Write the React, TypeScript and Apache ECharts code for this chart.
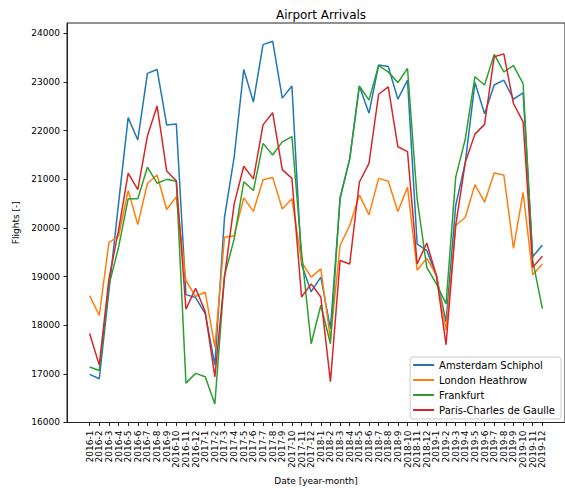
import React, { useEffect, useRef } from "react";
import * as echarts from "echarts";

const categories = [
  "2016-1", "2016-2", "2016-3", "2016-4", "2016-5", "2016-6", "2016-7", "2016-8", "2016-9", "2016-10", "2016-11", "2016-12",
  "2017-1", "2017-2", "2017-3", "2017-4", "2017-5", "2017-6", "2017-7", "2017-8", "2017-9", "2017-10", "2017-11", "2017-12",
  "2018-1", "2018-2", "2018-3", "2018-4", "2018-5", "2018-6", "2018-7", "2018-8", "2018-9", "2018-10", "2018-11", "2018-12",
  "2019-1", "2019-2", "2019-3", "2019-4", "2019-5", "2019-6", "2019-7", "2019-8", "2019-9", "2019-10", "2019-11", "2019-12",
];

const amsterdam = [
  16990, 16900, 18700, 20500, 22270, 21810, 23180, 23260, 22120, 22140, 18630, 18570,
  18240, 17180, 20220, 21450, 23260, 22590, 23770, 23840, 22670, 22920, 19250, 18690,
  18990, 17930, 20600, 21420, 22920, 22360, 23350, 23320, 22650, 23040, 19670, 19540,
  19020, 18070, 20460, 21350, 22990, 22350, 22940, 23040, 22650, 22780, 19410, 19650,
];

const heathrow = [
  18610, 18200, 19700, 19830, 20770, 20070, 20920, 21090, 20380, 20640, 18920, 18590,
  18680, 17550, 19810, 19840, 20620, 20340, 20990, 21040, 20390, 20600, 19300, 18990,
  19160, 17720, 19640, 20050, 20680, 20270, 21020, 20960, 20340, 20840, 19130, 19380,
  19020, 17900, 20050, 20220, 20890, 20530, 21130, 21090, 19580, 20730, 19040, 19260,
];

const frankfurt = [
  17140, 17070, 18820, 19600, 20600, 20600, 21250, 20920, 21000, 20960, 16810, 17010,
  16940, 16380, 19020, 19770, 20950, 20770, 21740, 21500, 21770, 21880, 19500, 17620,
  18410, 17620, 20630, 21420, 22920, 22630, 23340, 23210, 22990, 23280, 20600, 19190,
  18850, 18440, 21040, 21830, 23110, 22940, 23570, 23210, 23340, 22970, 19330, 18340,
];

const paris = [
  17830, 17180, 18950, 19950, 21130, 20790, 21890, 22510, 21170, 20970, 18330, 18760,
  18280, 16940, 18990, 20490, 21270, 21010, 22120, 22370, 21200, 21020, 18580, 18850,
  18580, 16840, 19330, 19260, 20940, 21330, 22750, 22900, 21670, 21570, 19260, 19690,
  19020, 17600, 20050, 21350, 21930, 22130, 23520, 23580, 22560, 22180, 19190, 19420,
];

const seriesNames = ["Amsterdam Schiphol", "London Heathrow", "Frankfurt", "Paris-Charles de Gaulle"];
const yTicks = [16000, 17000, 18000, 19000, 20000, 21000, 22000, 23000, 24000];
const colors = ["#1f77b4", "#ff7f0e", "#2ca02c", "#d62728"];

const FONT = "DejaVu Sans";

export default function App() {
  const ref = useRef<HTMLDivElement>(null);

  useEffect(() => {
    if (!ref.current) return;
    const chart = echarts.init(ref.current, undefined, { renderer: "svg" });
    const xIdx = categories.map((_, i) => i);
    const allSeries = [amsterdam, heathrow, frankfurt, paris];

    chart.setOption({
      animation: false,
      backgroundColor: "#ffffff",
      title: {
        text: "Airport Arrivals",
        left: 316,
        top: 4,
        textAlign: "center",
        textStyle: { fontFamily: FONT, fontSize: 12, fontWeight: "normal", color: "#000" },
      },
      grid: {
        left: 67,
        top: 23,
        width: 498,
        height: 400,
        show: true,
        borderColor: "#222",
        borderWidth: 1,
        backgroundColor: "transparent",
      },
      legend: {
        orient: "vertical",
        right: 4,
        bottom: 71,
        padding: [2, 6, 3, 3],
        itemGap: 3,
        itemWidth: 21,
        itemHeight: 2,
        itemTextGap: 8,
        icon: "rect",
        backgroundColor: "rgba(255,255,255,0.8)",
        borderColor: "#cccccc",
        borderWidth: 1,
        borderRadius: 3,
        textStyle: { fontFamily: FONT, fontSize: 10, color: "#000", lineHeight: 12 },
        data: seriesNames,
      },
      xAxis: {
        type: "value",
        min: -2.35,
        max: 49.35,
        name: "Date [year-month]",
        nameLocation: "middle",
        nameGap: 52,
        nameTextStyle: { fontFamily: FONT, fontSize: 9, color: "#000" },
        axisLine: { show: true, onZero: false, lineStyle: { color: "#222", width: 1 } },
        axisTick: { show: true, length: 3.5, customValues: xIdx, lineStyle: { color: "#222" } },
        axisLabel: {
          customValues: xIdx,
          rotate: 90,
          margin: 8,
          fontFamily: FONT,
          fontSize: 9,
          color: "#000",
          formatter: (v: number) => categories[Math.round(v)] ?? "",
        },
        splitLine: { show: false },
      },
      yAxis: {
        type: "value",
        min: 16000,
        max: 24215,
        name: "Flights [-]",
        nameLocation: "middle",
        nameGap: 33,
        nameTextStyle: { fontFamily: FONT, fontSize: 9, color: "#000" },
        axisLine: { show: true, onZero: false, lineStyle: { color: "#222", width: 1 } },
        axisTick: { show: true, length: 3.5, customValues: yTicks, lineStyle: { color: "#222" } },
        axisLabel: {
          customValues: yTicks,
          margin: 7,
          fontFamily: FONT,
          fontSize: 9,
          color: "#000",
          formatter: (v: number) => String(Math.round(v)),
        },
        splitLine: { show: false },
      },
      series: allSeries.map((vals, s) => ({
        name: seriesNames[s],
        type: "line",
        symbol: "none",
        data: vals.map((v, i) => [i, v]),
        lineStyle: { color: colors[s], width: 1.5 },
        itemStyle: { color: colors[s] },
        z: 2 + s,
      })),
    });
    return () => chart.dispose();
  }, []);

  return (
    <div
      ref={ref}
      style={{ position: "fixed", left: 0, top: 0, width: 565, height: 490, background: "#fff" }}
    />
  );
}
